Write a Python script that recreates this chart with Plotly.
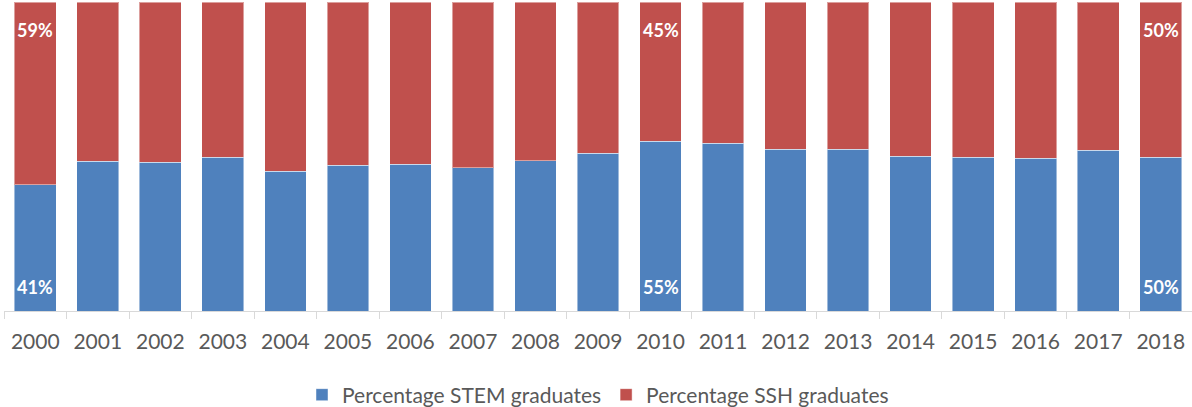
import plotly.graph_objects as go

# Data (percent of graduates)
years = [str(y) for y in range(2000, 2019)]
stem_pct = [40.8, 48.4, 48.2, 49.7, 45.2, 47.2, 47.5, 46.4, 48.6, 51.0,
            54.9, 54.3, 52.3, 52.3, 50.1, 49.8, 49.4, 52.0, 49.8]
ssh_pct = [59.2, 51.6, 51.8, 50.3, 54.8, 52.8, 52.5, 53.6, 51.4, 49.0,
           45.1, 45.7, 47.7, 47.7, 49.9, 50.2, 50.6, 48.0, 50.2]
labelled_years = ['2000', '2010', '2018']

blue = '#4F81BD'
red = '#C0504D'
font_family = 'Lato, Open Sans, sans-serif'

fig = go.Figure()
fig.add_trace(go.Bar(
    x=years, y=stem_pct, name='Percentage STEM graduates',
    marker=dict(color=blue, line=dict(color='rgba(255,255,255,0.45)', width=1)),
    hoverinfo='x+y+name',
))
fig.add_trace(go.Bar(
    x=years, y=ssh_pct, name='Percentage SSH graduates',
    marker=dict(color=red, line=dict(color='rgba(255,255,255,0.45)', width=1)),
    hoverinfo='x+y+name',
))

# data labels for selected years: STEM at base, SSH at top of stack
# (category axis: annotations use the category index, numeric-looking names confuse it)
for i, yr in enumerate(years):
    if yr not in labelled_years:
        continue
    fig.add_annotation(x=i, y=0, yanchor='bottom', yshift=11,
                       text=f"<b>{round(stem_pct[i])}%</b>", showarrow=False,
                       font=dict(family=font_family, size=18, color='white'))
    fig.add_annotation(x=i, y=stem_pct[i] + ssh_pct[i], yanchor='top', yshift=-15,
                       text=f"<b>{round(ssh_pct[i])}%</b>", showarrow=False,
                       font=dict(family=font_family, size=18, color='white'))

fig.update_layout(
    width=1192, height=407,
    barmode='stack', bargap=0.333,
    plot_bgcolor='white', paper_bgcolor='white',
    margin=dict(l=4, r=0, t=2, b=96),
    font=dict(family=font_family, size=21, color='#595959'),
    showlegend=True,
    legend=dict(orientation='h', x=0.5, xanchor='center',
                yref='container', y=(407 - 395) / 407, yanchor='middle',
                font=dict(size=21, color='#595959'), traceorder='normal',
                itemwidth=30),
)
fig.update_xaxes(
    type='category', range=[-0.5, len(years) - 0.5],
    showgrid=False, showline=True, linecolor='#D9D9D9', linewidth=1,
    ticks='outside', tickson='boundaries', ticklen=7, tickcolor='#D9D9D9',
    ticklabelstandoff=12, tickfont=dict(size=21, color='#595959'),
)
fig.update_yaxes(range=[0, 100], visible=False, showgrid=False)

# drop the browser's default body margin so the figure fills the window
fig.write_html("out.html", config={'displayModeBar': False},
               post_script="document.body.style.margin='0px';")
